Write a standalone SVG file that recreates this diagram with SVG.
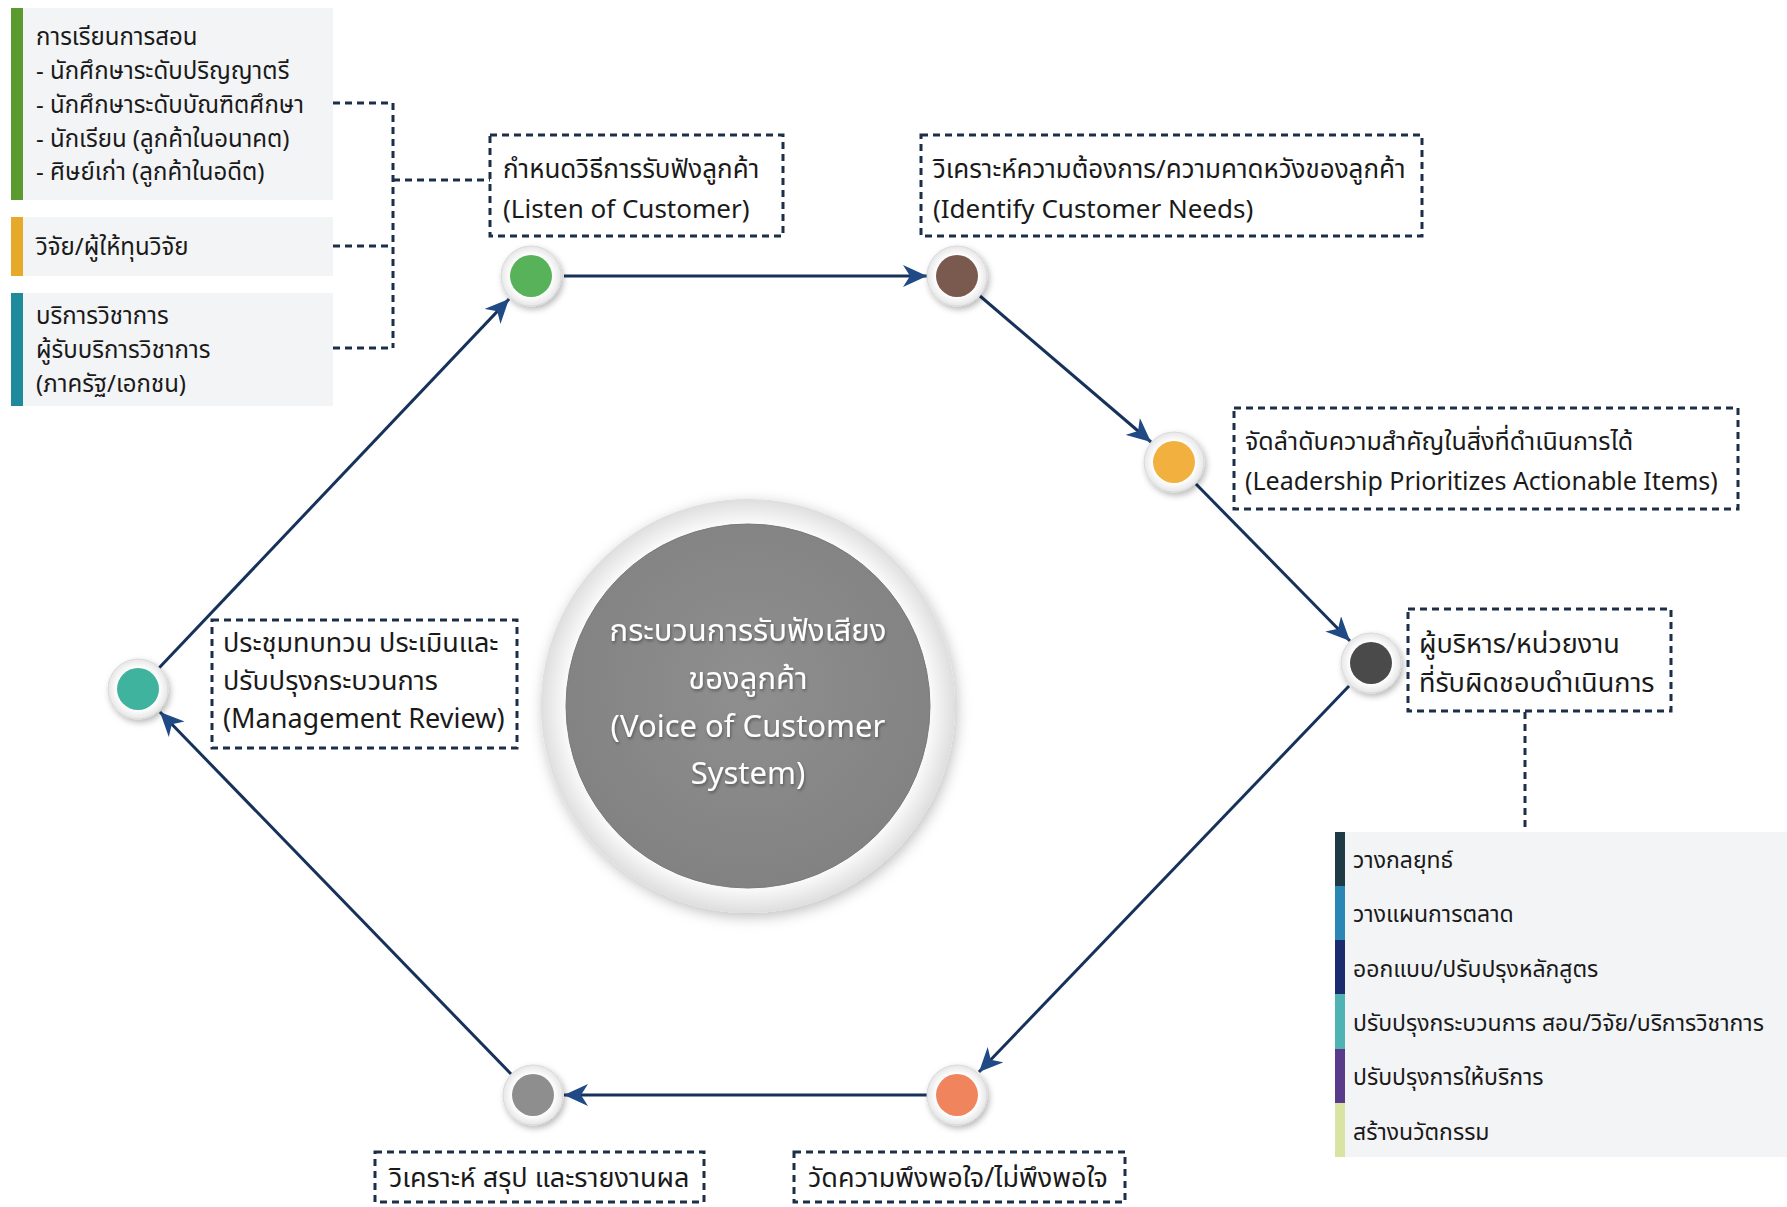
<svg xmlns="http://www.w3.org/2000/svg" width="1787" height="1207" viewBox="0 0 1787 1207">
  <style>
    text { font-family: "Noto Sans Thai", "Noto Sans", "DejaVu Sans", sans-serif; fill: #1a1a1a; }
    .lbl { font-size: 27px; }
    .lbl-s { font-size: 26px; }
    .lbl-xs { font-size: 25px; }
    .side { font-size: 24px; }
    .act { font-size: 23px; }
    .ctr { font-size: 31px; fill: #ffffff; text-anchor: middle; }
    .dbox { fill: #ffffff; stroke: #1d2f48; stroke-width: 3; stroke-dasharray: 7 5; }
    .dline { fill: none; stroke: #1d2f48; stroke-width: 3; stroke-dasharray: 7 5; }
    .conn { fill: none; stroke: #17325a; stroke-width: 3; marker-end: url(#arrow); }
    .ring { fill: url(#ringGrad); stroke: #d9d9d9; stroke-width: 1; filter: url(#shadow); }
    .panel { fill: #f3f4f6; }
  </style>
  <defs>
    <marker id="arrow" markerUnits="userSpaceOnUse" markerWidth="26" markerHeight="22" refX="24" refY="11" orient="auto">
      <path d="M0,0 L24,11 L0,22 L7,11 z" fill="#1f4a86"/>
    </marker>
    <radialGradient id="ringGrad" cx="50%" cy="50%" r="50%">
      <stop offset="70%" stop-color="#ffffff"/>
      <stop offset="100%" stop-color="#e6e6e6"/>
    </radialGradient>
    <radialGradient id="bigRing" cx="50%" cy="50%" r="50%">
      <stop offset="86%" stop-color="#ffffff"/>
      <stop offset="100%" stop-color="#dedede"/>
    </radialGradient>
    <radialGradient id="bigCore" cx="50%" cy="45%" r="55%">
      <stop offset="0%" stop-color="#8f8f8f"/>
      <stop offset="100%" stop-color="#828282"/>
    </radialGradient>
    <filter id="shadow" x="-40%" y="-40%" width="180%" height="180%">
      <feDropShadow dx="2" dy="3" stdDeviation="3" flood-color="#000000" flood-opacity="0.28"/>
    </filter>
    <filter id="bigShadow" x="-20%" y="-20%" width="140%" height="140%">
      <feDropShadow dx="2" dy="4" stdDeviation="7" flood-color="#000000" flood-opacity="0.25"/>
    </filter>
    <filter id="txtShadow" x="-10%" y="-30%" width="120%" height="160%">
      <feDropShadow dx="1" dy="2" stdDeviation="1.5" flood-color="#000000" flood-opacity="0.35"/>
    </filter>
  </defs>

  <rect width="1787" height="1207" fill="#ffffff"/>

  <!-- connectors -->
  <g id="connectors">
    <line class="conn" x1="564" y1="276" x2="927" y2="276"/>
    <line class="conn" x1="980" y1="296" x2="1151" y2="442"/>
    <line class="conn" x1="1196" y1="484" x2="1350" y2="641"/>
    <line class="conn" x1="1349" y1="686" x2="979" y2="1072"/>
    <line class="conn" x1="927" y1="1095" x2="564" y2="1095"/>
    <line class="conn" x1="511" y1="1074" x2="160" y2="712"/>
    <line class="conn" x1="159" y1="668" x2="509" y2="299"/>
    <!-- dotted links of the customer groups -->
    <path class="dline" d="M333,103 H393 M333,246 H393 M333,348 H393 M393,103 V348 M393,180 H490"/>
    <!-- dotted link down to the action list -->
    <path class="dline" d="M1525,712 V832"/>
  </g>

  <!-- customer groups -->
  <g id="group-teaching">
    <rect class="panel" x="11" y="8" width="322" height="192"/>
    <rect x="11" y="8" width="12" height="192" fill="#5a9a2e"/>
    <text class="side" x="36" y="45">การเรียนการสอน</text>
    <text class="side" x="36" y="79">- นักศึกษาระดับปริญญาตรี</text>
    <text class="side" x="36" y="113">- นักศึกษาระดับบัณฑิตศึกษา</text>
    <text class="side" x="36" y="147">- นักเรียน (ลูกค้าในอนาคต)</text>
    <text class="side" x="36" y="180">- ศิษย์เก่า (ลูกค้าในอดีต)</text>
  </g>
  <g id="group-research">
    <rect class="panel" x="11" y="217" width="322" height="59"/>
    <rect x="11" y="217" width="12" height="59" fill="#e7a92a"/>
    <text class="side" x="36" y="255">วิจัย/ผู้ให้ทุนวิจัย</text>
  </g>
  <g id="group-service">
    <rect class="panel" x="11" y="293" width="322" height="113"/>
    <rect x="11" y="293" width="12" height="113" fill="#1f8a9c"/>
    <text class="side" x="36" y="324">บริการวิชาการ</text>
    <text class="side" x="36" y="358">ผู้รับบริการวิชาการ</text>
    <text class="side" x="36" y="392">(ภาครัฐ/เอกชน)</text>
  </g>

  <!-- centre -->
  <g id="center">
    <circle cx="748" cy="706" r="207" fill="url(#bigRing)" filter="url(#bigShadow)"/>
    <circle cx="748" cy="706" r="182" fill="url(#bigCore)" stroke="#7a7a7a" stroke-width="1"/>
    <g filter="url(#txtShadow)">
      <text class="ctr" x="748" y="641">กระบวนการรับฟังเสียง</text>
      <text class="ctr" x="748" y="689">ของลูกค้า</text>
      <text class="ctr" x="748" y="737">(Voice of Customer</text>
      <text class="ctr" x="748" y="784">System)</text>
    </g>
  </g>

  <!-- process steps -->
  <g id="step-listen">
    <circle class="ring" cx="531" cy="276" r="30"/>
    <circle cx="531" cy="276" r="21" fill="#57b25a"/>
    <rect class="dbox" x="490" y="135" width="293" height="101"/>
    <text class="lbl-s" x="503" y="178">กำหนดวิธีการรับฟังลูกค้า</text>
    <text class="lbl-s" x="503" y="218">(Listen of Customer)</text>
  </g>
  <g id="step-identify">
    <circle class="ring" cx="957" cy="276" r="30"/>
    <circle cx="957" cy="276" r="21" fill="#7a5a4e"/>
    <rect class="dbox" x="921" y="135" width="501" height="101"/>
    <text class="lbl-s" x="933" y="178">วิเคราะห์ความต้องการ/ความคาดหวังของลูกค้า</text>
    <text class="lbl-s" x="933" y="218">(Identify Customer Needs)</text>
  </g>
  <g id="step-prioritize">
    <circle class="ring" cx="1174" cy="462" r="30"/>
    <circle cx="1174" cy="462" r="21" fill="#f2b03f"/>
    <rect class="dbox" x="1234" y="408" width="504" height="101"/>
    <text class="lbl-xs" x="1245" y="450">จัดลำดับความสำคัญในสิ่งที่ดำเนินการได้</text>
    <text class="lbl-xs" x="1245" y="490">(Leadership Prioritizes Actionable Items)</text>
  </g>
  <g id="step-owner">
    <circle class="ring" cx="1371" cy="663" r="30"/>
    <circle cx="1371" cy="663" r="21" fill="#4a4a4a"/>
    <rect class="dbox" x="1408" y="609" width="263" height="102"/>
    <text class="lbl" x="1419" y="653">ผู้บริหาร/หน่วยงาน</text>
    <text class="lbl" x="1419" y="692">ที่รับผิดชอบดำเนินการ</text>
  </g>
  <g id="step-measure">
    <circle class="ring" cx="957" cy="1095" r="30"/>
    <circle cx="957" cy="1095" r="21" fill="#f0845c"/>
    <rect class="dbox" x="794" y="1152" width="331" height="50"/>
    <text class="lbl" x="808" y="1187">วัดความพึงพอใจ/ไม่พึงพอใจ</text>
  </g>
  <g id="step-report">
    <circle class="ring" cx="533" cy="1095" r="30"/>
    <circle cx="533" cy="1095" r="21" fill="#8e8e8e"/>
    <rect class="dbox" x="375" y="1152" width="329" height="50"/>
    <text class="lbl" x="389" y="1187">วิเคราะห์ สรุป และรายงานผล</text>
  </g>
  <g id="step-review">
    <circle class="ring" cx="138" cy="689" r="30"/>
    <circle cx="138" cy="689" r="21" fill="#3fb39d"/>
    <rect class="dbox" x="212" y="620" width="305" height="128"/>
    <text class="lbl" x="223" y="652">ประชุมทบทวน ประเมินและ</text>
    <text class="lbl" x="223" y="690">ปรับปรุงกระบวนการ</text>
    <text class="lbl" x="223" y="728">(Management Review)</text>
  </g>

  <!-- actions taken by the owners -->
  <g id="actions">
    <rect class="panel" x="1335" y="832" width="452" height="325"/>
    <rect x="1335" y="832" width="10" height="54" fill="#1e3a44"/>
    <rect x="1335" y="886" width="10" height="54" fill="#2a87b5"/>
    <rect x="1335" y="940" width="10" height="54" fill="#1c2a6e"/>
    <rect x="1335" y="994" width="10" height="55" fill="#4fb3b3"/>
    <rect x="1335" y="1049" width="10" height="54" fill="#5a3a8a"/>
    <rect x="1335" y="1103" width="10" height="54" fill="#d9e3a2"/>
    <text class="act" x="1353" y="868">วางกลยุทธ์</text>
    <text class="act" x="1353" y="922">วางแผนการตลาด</text>
    <text class="act" x="1353" y="977">ออกแบบ/ปรับปรุงหลักสูตร</text>
    <text class="act" x="1353" y="1031">ปรับปรุงกระบวนการ สอน/วิจัย/บริการวิชาการ</text>
    <text class="act" x="1353" y="1085">ปรับปรุงการให้บริการ</text>
    <text class="act" x="1353" y="1140">สร้างนวัตกรรม</text>
  </g>
</svg>
